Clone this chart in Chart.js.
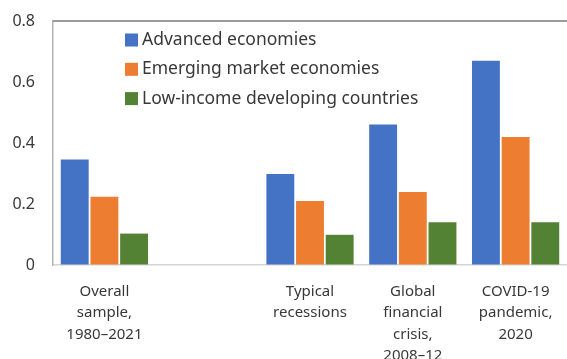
<!DOCTYPE html>
<html>
<head>
<meta charset="utf-8">
<script src="https://cdn.jsdelivr.net/npm/chart.js@4.4.1/dist/chart.umd.min.js"></script>
<style>
  html, body { margin: 0; padding: 0; background: #fff; }
  #wrap { width: 567px; height: 359px; position: relative; }
</style>
</head>
<body>
<div id="wrap"><canvas id="barChart"></canvas></div>
<script>
const categories = [
    ['Overall', 'sample,', '1980\u20132021'],
    '',
    ['Typical', 'recessions'],
    ['Global', 'financial', 'crisis,', '2008\u201312'],
    ['COVID-19', 'pandemic,', '2020']
];
const advanced = [0.346, null, 0.298, 0.461, 0.67];
const emerging = [0.224, null, 0.21, 0.239, 0.42];
const lowIncome = [0.103, null, 0.099, 0.14, 0.14];
const yTicks = [0, 0.2, 0.4, 0.6, 0.8];

const fontFamily = '"Noto Sans", "Open Sans", sans-serif';
const textColor = '#383838';

// top frame line + legend drawn inside the plot area
const insideLegend = {
    id: 'insideLegend',
    afterDraw(chart) {
        const ctx = chart.ctx;
        const area = chart.chartArea;
        const yTop = chart.scales.y.getPixelForValue(0.8);
        ctx.save();
        ctx.strokeStyle = '#9c9c9c';
        ctx.lineWidth = 2;
        ctx.beginPath();
        ctx.moveTo(area.left, yTop);
        ctx.lineTo(area.right, yTop);
        ctx.stroke();
        ctx.font = '17.5px ' + fontFamily;
        ctx.textBaseline = 'middle';
        chart.data.datasets.forEach(function(ds, i) {
            const y = 40 + i * 29.3;
            ctx.fillStyle = ds.backgroundColor;
            ctx.fillRect(125, y - 6.5, 13, 13);
            ctx.fillStyle = textColor;
            ctx.fillText(ds.label, 142, y);
        });
        ctx.restore();
    }
};

const ctx = document.getElementById('barChart').getContext('2d');
const myChart = new Chart(ctx, {
    type: 'bar',
    data: {
        labels: categories,
        datasets: [{
            label: 'Advanced economies',
            data: advanced,
            backgroundColor: '#4472C4'
        }, {
            label: 'Emerging market economies',
            data: emerging,
            backgroundColor: '#ED7D31'
        }, {
            label: 'Low-income developing countries',
            data: lowIncome,
            backgroundColor: '#548235'
        }]
    },
    options: {
        responsive: true,
        maintainAspectRatio: false,
        animation: false,
        categoryPercentage: 0.866,
        barPercentage: 0.94,
        layout: { padding: { top: 21, right: 0, left: 0, bottom: 0 } },
        plugins: {
            legend: { display: false },
            tooltip: { enabled: false }
        },
        scales: {
            x: {
                grid: { display: false },
                border: { display: true, color: '#d4d4d4', width: 1.5 },
                ticks: {
                    color: textColor,
                    font: { family: fontFamily, size: 15, lineHeight: 1.43 },
                    padding: 8,
                    maxRotation: 0,
                    autoSkip: false
                },
                afterFit: function(scale) { scale.height = 94; }
            },
            y: {
                min: 0,
                max: 0.8,
                afterBuildTicks: function(scale) {
                    scale.ticks = yTicks.map(v => ({ value: v }));
                },
                // invisible tick marks push the labels away from the axis
                grid: {
                    drawOnChartArea: false,
                    drawTicks: true,
                    tickLength: 15,
                    color: 'rgba(0,0,0,0)'
                },
                border: { display: true, color: '#b4b4b4', width: 1.5 },
                ticks: {
                    color: textColor,
                    font: { family: fontFamily, size: 16 },
                    padding: 3,
                    callback: function(v) { return v === 0 ? '0' : v.toFixed(1); }
                },
                afterFit: function(scale) { scale.width = 53; }
            }
        }
    },
    plugins: [insideLegend]
});
</script>
</body>
</html>
